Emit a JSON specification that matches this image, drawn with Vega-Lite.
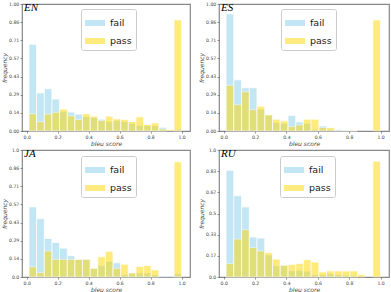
{
  "$schema": "https://vega.github.io/schema/vega-lite/v6.json",
  "padding": {"left": 0, "top": 0, "right": 0, "bottom": 0},
  "background": "white",
  "datasets": {
    "bins": [
      {"k": 0, "lo": 0.015, "hi": 0.064}, {"k": 1, "lo": 0.064, "hi": 0.114},
      {"k": 2, "lo": 0.114, "hi": 0.163}, {"k": 3, "lo": 0.163, "hi": 0.212},
      {"k": 4, "lo": 0.212, "hi": 0.262}, {"k": 5, "lo": 0.262, "hi": 0.311},
      {"k": 6, "lo": 0.311, "hi": 0.36}, {"k": 7, "lo": 0.36, "hi": 0.41},
      {"k": 8, "lo": 0.41, "hi": 0.459}, {"k": 9, "lo": 0.459, "hi": 0.508},
      {"k": 10, "lo": 0.508, "hi": 0.557}, {"k": 11, "lo": 0.557, "hi": 0.607},
      {"k": 12, "lo": 0.607, "hi": 0.656}, {"k": 13, "lo": 0.656, "hi": 0.705},
      {"k": 14, "lo": 0.705, "hi": 0.755}, {"k": 15, "lo": 0.755, "hi": 0.804},
      {"k": 16, "lo": 0.804, "hi": 0.853}, {"k": 17, "lo": 0.853, "hi": 0.902},
      {"k": 18, "lo": 0.902, "hi": 0.951}, {"k": 19, "lo": 0.951, "hi": 1.0}
    ],
    "hist": [
      {"lang": "EN", "result": "fail", "k": 0, "freq": 0.683}, {"lang": "EN", "result": "fail", "k": 1, "freq": 0.30},
      {"lang": "EN", "result": "fail", "k": 2, "freq": 0.333}, {"lang": "EN", "result": "fail", "k": 3, "freq": 0.251},
      {"lang": "EN", "result": "fail", "k": 4, "freq": 0.155}, {"lang": "EN", "result": "fail", "k": 5, "freq": 0.149},
      {"lang": "EN", "result": "fail", "k": 6, "freq": 0.133}, {"lang": "EN", "result": "fail", "k": 7, "freq": 0.115},
      {"lang": "EN", "result": "fail", "k": 8, "freq": 0.107}, {"lang": "EN", "result": "fail", "k": 9, "freq": 0.093},
      {"lang": "EN", "result": "fail", "k": 10, "freq": 0.075}, {"lang": "EN", "result": "fail", "k": 11, "freq": 0.085},
      {"lang": "EN", "result": "fail", "k": 12, "freq": 0.075}, {"lang": "EN", "result": "fail", "k": 13, "freq": 0.06},
      {"lang": "EN", "result": "fail", "k": 14, "freq": 0.043}, {"lang": "EN", "result": "fail", "k": 15, "freq": 0.043},
      {"lang": "EN", "result": "fail", "k": 16, "freq": 0.043}, {"lang": "EN", "result": "fail", "k": 17, "freq": 0.029},
      {"lang": "EN", "result": "fail", "k": 19, "freq": 0.013},
      {"lang": "EN", "result": "pass", "k": 0, "freq": 0.136}, {"lang": "EN", "result": "pass", "k": 1, "freq": 0.072},
      {"lang": "EN", "result": "pass", "k": 2, "freq": 0.133}, {"lang": "EN", "result": "pass", "k": 3, "freq": 0.147},
      {"lang": "EN", "result": "pass", "k": 4, "freq": 0.173}, {"lang": "EN", "result": "pass", "k": 5, "freq": 0.12},
      {"lang": "EN", "result": "pass", "k": 6, "freq": 0.091}, {"lang": "EN", "result": "pass", "k": 7, "freq": 0.136},
      {"lang": "EN", "result": "pass", "k": 8, "freq": 0.117}, {"lang": "EN", "result": "pass", "k": 9, "freq": 0.083},
      {"lang": "EN", "result": "pass", "k": 10, "freq": 0.117}, {"lang": "EN", "result": "pass", "k": 11, "freq": 0.096},
      {"lang": "EN", "result": "pass", "k": 12, "freq": 0.091}, {"lang": "EN", "result": "pass", "k": 13, "freq": 0.075},
      {"lang": "EN", "result": "pass", "k": 14, "freq": 0.112}, {"lang": "EN", "result": "pass", "k": 15, "freq": 0.051},
      {"lang": "EN", "result": "pass", "k": 16, "freq": 0.064}, {"lang": "EN", "result": "pass", "k": 17, "freq": 0.016},
      {"lang": "EN", "result": "pass", "k": 18, "freq": 0.011}, {"lang": "EN", "result": "pass", "k": 19, "freq": 0.875},

      {"lang": "ES", "result": "fail", "k": 0, "freq": 0.923}, {"lang": "ES", "result": "fail", "k": 1, "freq": 0.403},
      {"lang": "ES", "result": "fail", "k": 2, "freq": 0.341}, {"lang": "ES", "result": "fail", "k": 3, "freq": 0.341},
      {"lang": "ES", "result": "fail", "k": 4, "freq": 0.173}, {"lang": "ES", "result": "fail", "k": 5, "freq": 0.125},
      {"lang": "ES", "result": "fail", "k": 6, "freq": 0.067}, {"lang": "ES", "result": "fail", "k": 7, "freq": 0.061},
      {"lang": "ES", "result": "fail", "k": 8, "freq": 0.123}, {"lang": "ES", "result": "fail", "k": 9, "freq": 0.072},
      {"lang": "ES", "result": "fail", "k": 10, "freq": 0.061}, {"lang": "ES", "result": "fail", "k": 11, "freq": 0.013},
      {"lang": "ES", "result": "fail", "k": 12, "freq": 0.04}, {"lang": "ES", "result": "fail", "k": 13, "freq": 0.013},
      {"lang": "ES", "result": "fail", "k": 14, "freq": 0.013}, {"lang": "ES", "result": "fail", "k": 15, "freq": 0.004},
      {"lang": "ES", "result": "fail", "k": 16, "freq": 0.003},
      {"lang": "ES", "result": "pass", "k": 0, "freq": 0.36}, {"lang": "ES", "result": "pass", "k": 1, "freq": 0.208},
      {"lang": "ES", "result": "pass", "k": 2, "freq": 0.309}, {"lang": "ES", "result": "pass", "k": 3, "freq": 0.168},
      {"lang": "ES", "result": "pass", "k": 4, "freq": 0.195}, {"lang": "ES", "result": "pass", "k": 5, "freq": 0.128},
      {"lang": "ES", "result": "pass", "k": 6, "freq": 0.093}, {"lang": "ES", "result": "pass", "k": 7, "freq": 0.08},
      {"lang": "ES", "result": "pass", "k": 8, "freq": 0.035}, {"lang": "ES", "result": "pass", "k": 9, "freq": 0.048},
      {"lang": "ES", "result": "pass", "k": 10, "freq": 0.093}, {"lang": "ES", "result": "pass", "k": 11, "freq": 0.093},
      {"lang": "ES", "result": "pass", "k": 12, "freq": 0.027}, {"lang": "ES", "result": "pass", "k": 13, "freq": 0.027},
      {"lang": "ES", "result": "pass", "k": 14, "freq": 0.003}, {"lang": "ES", "result": "pass", "k": 15, "freq": 0.004},
      {"lang": "ES", "result": "pass", "k": 16, "freq": 0.003}, {"lang": "ES", "result": "pass", "k": 19, "freq": 0.875},

      {"lang": "JA", "result": "fail", "k": 0, "freq": 0.552}, {"lang": "JA", "result": "fail", "k": 1, "freq": 0.459},
      {"lang": "JA", "result": "fail", "k": 2, "freq": 0.304}, {"lang": "JA", "result": "fail", "k": 3, "freq": 0.272},
      {"lang": "JA", "result": "fail", "k": 4, "freq": 0.227}, {"lang": "JA", "result": "fail", "k": 5, "freq": 0.168},
      {"lang": "JA", "result": "fail", "k": 6, "freq": 0.139}, {"lang": "JA", "result": "fail", "k": 7, "freq": 0.139},
      {"lang": "JA", "result": "fail", "k": 8, "freq": 0.069}, {"lang": "JA", "result": "fail", "k": 9, "freq": 0.091},
      {"lang": "JA", "result": "fail", "k": 10, "freq": 0.123}, {"lang": "JA", "result": "fail", "k": 11, "freq": 0.112},
      {"lang": "JA", "result": "fail", "k": 12, "freq": 0.019}, {"lang": "JA", "result": "fail", "k": 13, "freq": 0.032},
      {"lang": "JA", "result": "fail", "k": 14, "freq": 0.032}, {"lang": "JA", "result": "fail", "k": 15, "freq": 0.032},
      {"lang": "JA", "result": "fail", "k": 16, "freq": 0.019}, {"lang": "JA", "result": "fail", "k": 17, "freq": 0.008},
      {"lang": "JA", "result": "fail", "k": 18, "freq": 0.008}, {"lang": "JA", "result": "fail", "k": 19, "freq": 0.027},
      {"lang": "JA", "result": "pass", "k": 0, "freq": 0.08}, {"lang": "JA", "result": "pass", "k": 1, "freq": 0.035},
      {"lang": "JA", "result": "pass", "k": 2, "freq": 0.205}, {"lang": "JA", "result": "pass", "k": 3, "freq": 0.139},
      {"lang": "JA", "result": "pass", "k": 4, "freq": 0.139}, {"lang": "JA", "result": "pass", "k": 5, "freq": 0.139},
      {"lang": "JA", "result": "pass", "k": 6, "freq": 0.139}, {"lang": "JA", "result": "pass", "k": 7, "freq": 0.139},
      {"lang": "JA", "result": "pass", "k": 8, "freq": 0.069}, {"lang": "JA", "result": "pass", "k": 9, "freq": 0.16},
      {"lang": "JA", "result": "pass", "k": 10, "freq": 0.203}, {"lang": "JA", "result": "pass", "k": 11, "freq": 0.069},
      {"lang": "JA", "result": "pass", "k": 12, "freq": 0.101}, {"lang": "JA", "result": "pass", "k": 13, "freq": 0.032},
      {"lang": "JA", "result": "pass", "k": 14, "freq": 0.083}, {"lang": "JA", "result": "pass", "k": 15, "freq": 0.091},
      {"lang": "JA", "result": "pass", "k": 16, "freq": 0.056}, {"lang": "JA", "result": "pass", "k": 19, "freq": 0.907},

      {"lang": "RU", "result": "fail", "k": 0, "freq": 0.84}, {"lang": "RU", "result": "fail", "k": 1, "freq": 0.64},
      {"lang": "RU", "result": "fail", "k": 2, "freq": 0.552}, {"lang": "RU", "result": "fail", "k": 3, "freq": 0.315},
      {"lang": "RU", "result": "fail", "k": 4, "freq": 0.307}, {"lang": "RU", "result": "fail", "k": 5, "freq": 0.173},
      {"lang": "RU", "result": "fail", "k": 6, "freq": 0.088}, {"lang": "RU", "result": "fail", "k": 7, "freq": 0.093},
      {"lang": "RU", "result": "fail", "k": 8, "freq": 0.048}, {"lang": "RU", "result": "fail", "k": 9, "freq": 0.053},
      {"lang": "RU", "result": "fail", "k": 10, "freq": 0.046}, {"lang": "RU", "result": "fail", "k": 11, "freq": 0.019},
      {"lang": "RU", "result": "fail", "k": 12, "freq": 0.02}, {"lang": "RU", "result": "fail", "k": 13, "freq": 0.027},
      {"lang": "RU", "result": "fail", "k": 14, "freq": 0.02}, {"lang": "RU", "result": "fail", "k": 15, "freq": 0.015},
      {"lang": "RU", "result": "fail", "k": 16, "freq": 0.012},
      {"lang": "RU", "result": "pass", "k": 0, "freq": 0.107}, {"lang": "RU", "result": "pass", "k": 1, "freq": 0.299},
      {"lang": "RU", "result": "pass", "k": 2, "freq": 0.373}, {"lang": "RU", "result": "pass", "k": 3, "freq": 0.232},
      {"lang": "RU", "result": "pass", "k": 4, "freq": 0.205}, {"lang": "RU", "result": "pass", "k": 5, "freq": 0.192},
      {"lang": "RU", "result": "pass", "k": 6, "freq": 0.141}, {"lang": "RU", "result": "pass", "k": 7, "freq": 0.093},
      {"lang": "RU", "result": "pass", "k": 8, "freq": 0.099}, {"lang": "RU", "result": "pass", "k": 9, "freq": 0.107},
      {"lang": "RU", "result": "pass", "k": 10, "freq": 0.137}, {"lang": "RU", "result": "pass", "k": 11, "freq": 0.118},
      {"lang": "RU", "result": "pass", "k": 12, "freq": 0.04}, {"lang": "RU", "result": "pass", "k": 13, "freq": 0.048},
      {"lang": "RU", "result": "pass", "k": 14, "freq": 0.048}, {"lang": "RU", "result": "pass", "k": 15, "freq": 0.048},
      {"lang": "RU", "result": "pass", "k": 16, "freq": 0.048}, {"lang": "RU", "result": "pass", "k": 17, "freq": 0.019},
      {"lang": "RU", "result": "pass", "k": 19, "freq": 0.912}
    ]
  },
  "data": {"name": "hist"},
  "transform": [
    {"lookup": "k", "from": {"data": {"name": "bins"}, "key": "k", "fields": ["lo", "hi"]}}
  ],
  "columns": 2,
  "spacing": {"row": -1, "column": 6},
  "resolve": {"scale": {"color": "independent", "y": "independent", "x": "independent"}, "legend": {"color": "independent"}, "axis": {"y": "independent", "x": "independent"}},
  "concat": [
    {
      "width": 168, "height": 127,
      "title": {"text": "EN"},
      "transform": [{"filter": "datum.lang == 'EN'"}],
      "mark": {"type": "bar", "opacity": 0.5, "stroke": "white", "strokeWidth": 0.8},
      "encoding": {
        "x": {"field": "lo", "type": "quantitative", "scale": {"domain": [-0.03, 1.054], "nice": false, "zero": false}, "axis": {"title": "bleu score", "values": [0, 0.2, 0.4, 0.6, 0.8, 1], "format": ".1f"}},
        "x2": {"field": "hi"},
        "y": {"field": "freq", "type": "quantitative", "stack": null, "scale": {"domain": [0, 1], "nice": false}, "axis": {"title": "frequency", "values": [0, 0.142857, 0.285714, 0.428571, 0.571429, 0.714286, 0.857143, 1], "format": ".2f"}},
        "y2": {"datum": 0},
        "color": {"field": "result", "type": "nominal", "scale": {"domain": ["fail", "pass"], "range": ["#87CEEB", "#FFD700"]}, "legend": {"legendX": 59, "legendY": 5}}
      }
    },
    {
      "width": 170, "height": 127,
      "title": {"text": "ES"},
      "transform": [{"filter": "datum.lang == 'ES'"}],
      "mark": {"type": "bar", "opacity": 0.5, "stroke": "white", "strokeWidth": 0.8},
      "encoding": {
        "x": {"field": "lo", "type": "quantitative", "scale": {"domain": [-0.03, 1.054], "nice": false, "zero": false}, "axis": {"title": "bleu score", "values": [0, 0.2, 0.4, 0.6, 0.8, 1], "format": ".1f"}},
        "x2": {"field": "hi"},
        "y": {"field": "freq", "type": "quantitative", "stack": null, "scale": {"domain": [0, 1], "nice": false}, "axis": {"title": "frequency", "values": [0, 0.142857, 0.285714, 0.428571, 0.571429, 0.714286, 0.857143, 1], "format": ".2f"}},
        "y2": {"datum": 0},
        "color": {"field": "result", "type": "nominal", "scale": {"domain": ["fail", "pass"], "range": ["#87CEEB", "#FFD700"]}, "legend": {"legendX": 62, "legendY": 5}}
      }
    },
    {
      "width": 168, "height": 127,
      "title": {"text": "JA"},
      "transform": [{"filter": "datum.lang == 'JA'"}],
      "mark": {"type": "bar", "opacity": 0.5, "stroke": "white", "strokeWidth": 0.8},
      "encoding": {
        "x": {"field": "lo", "type": "quantitative", "scale": {"domain": [-0.03, 1.054], "nice": false, "zero": false}, "axis": {"title": "bleu score", "values": [0, 0.2, 0.4, 0.6, 0.8, 1], "format": ".1f"}},
        "x2": {"field": "hi"},
        "y": {"field": "freq", "type": "quantitative", "stack": null, "scale": {"domain": [0, 1], "nice": false}, "axis": {"title": "frequency", "values": [0, 0.142857, 0.285714, 0.428571, 0.571429, 0.714286, 0.857143, 1], "labelExpr": "datum.value == 0 ? '0.0' : datum.value == 1 ? '1.0' : format(datum.value, '.2f')"}},
        "y2": {"datum": 0},
        "color": {"field": "result", "type": "nominal", "scale": {"domain": ["fail", "pass"], "range": ["#87CEEB", "#FFD700"]}, "legend": {"legendX": 59, "legendY": 6}}
      }
    },
    {
      "width": 170, "height": 127,
      "title": {"text": "RU"},
      "transform": [{"filter": "datum.lang == 'RU'"}],
      "mark": {"type": "bar", "opacity": 0.5, "stroke": "white", "strokeWidth": 0.8},
      "encoding": {
        "x": {"field": "lo", "type": "quantitative", "scale": {"domain": [-0.03, 1.054], "nice": false, "zero": false}, "axis": {"title": "bleu score", "values": [0, 0.2, 0.4, 0.6, 0.8, 1], "format": ".1f"}},
        "x2": {"field": "hi"},
        "y": {"field": "freq", "type": "quantitative", "stack": null, "scale": {"domain": [0, 1], "nice": false}, "axis": {"title": "frequency", "values": [0, 0.166667, 0.333333, 0.5, 0.666667, 0.833333, 1], "labelExpr": "datum.value == 0 ? '0.0' : datum.value == 1 ? '1.0' : format(datum.value, '.2~f')"}},
        "y2": {"datum": 0},
        "color": {"field": "result", "type": "nominal", "scale": {"domain": ["fail", "pass"], "range": ["#87CEEB", "#FFD700"]}, "legend": {"legendX": 61, "legendY": 6}}
      }
    }
  ],
  "config": {
    "view": {"stroke": "#888", "strokeWidth": 1.2},
    "title": {"orient": "top", "anchor": "start", "frame": "group", "offset": -12, "baseline": "alphabetic", "dx": 2, "font": "Liberation Serif", "fontStyle": "italic", "fontWeight": "normal", "fontSize": 11, "color": "black"},
    "axis": {"domain": false, "grid": false, "tickColor": "#555", "tickSize": 2, "tickWidth": 0.6, "labelFont": "DejaVu Sans", "labelFontSize": 4.6, "labelColor": "#444", "labelPadding": 1.2, "titleFont": "DejaVu Sans", "titleFontSize": 6, "titleFontStyle": "italic", "titleFontWeight": "normal", "titleColor": "#444", "titlePadding": 1.5},
    "legend": {"orient": "none", "title": null, "symbolType": "M-1,-0.3H1V0.3H-1Z", "symbolSize": 400, "symbolStrokeWidth": 0, "symbolOpacity": 0.5, "labelFont": "DejaVu Sans", "labelFontSize": 9.5, "labelColor": "#222", "labelOffset": 5, "fillColor": "white", "strokeColor": "#ccc", "cornerRadius": 2, "padding": 4, "rowPadding": 3}
  }
}
